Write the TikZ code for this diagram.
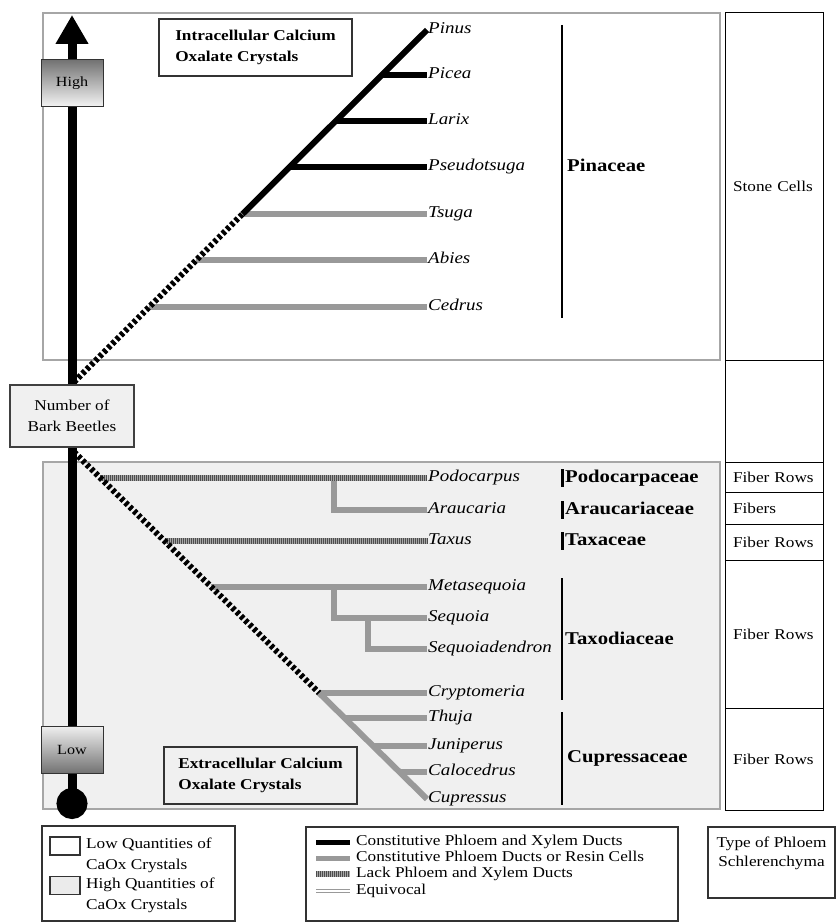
\documentclass[tikz,border=0pt]{standalone}
\usepackage{fontspec}
\setmainfont{Liberation Serif}[FakeStretch=1.15]
\usetikzlibrary{arrows.meta,positioning,calc}

\begin{document}
\begin{tikzpicture}[
    % GLOBAL CFG
    x=1pt, y=-1pt,
    font=\fontsize{15}{21}\selectfont,
    >=LaTeX,
    % Styles
    region/.style={% For the two big crystal areas
        draw=black!35,
        line width=1.5pt,
        },
    tag/.style={% For the boxes with a title
        rectangle,
        draw=black!80,
        line width=1.2pt,
        minimum width=193pt,
        minimum height=57pt,
        align=left,
        font=\fontsize{15}{21}\selectfont\bfseries,
        },
    gauge/.style={% For High and Low
        rectangle,
        draw=black!80,
        line width=1pt,
        minimum width=62pt,
        minimum height=47pt,
        font=\fontsize{14}{16}\selectfont,
        },
    cellbox/.style={% For the phloem column
        rectangle,
        draw,
        line width=1pt,
        minimum width=98pt,
        inner xsep=8pt,
        text width=82pt,
        align=left,
        },
    taxon/.style={% Genus names
        anchor=west,
        inner sep=1pt,
        text height=11pt,
        text depth=4pt,
        font=\fontsize{16.5}{18}\selectfont\itshape,
        },
    family/.style={% Family names
        anchor=west,
        inner sep=1pt,
        text height=12pt,
        text depth=4pt,
        font=\fontsize{18}{20}\selectfont\bfseries,
        },
    keybox/.style={% Legend boxes
        rectangle,
        draw=black!80,
        line width=1.2pt,
        },
    keytext/.style={% Legend entries
        anchor=west,
        inner sep=0pt,
        text height=10pt,
        text depth=3pt,
        },
    swatch/.style={% Little squares of the legend
        rectangle,
        draw=black!80,
        line width=1.5pt,
        minimum width=30pt,
        minimum height=18pt,
        },
    ducts/.style={line width=6pt},
    resin/.style={line width=6pt, draw=black!40},
    noducts/.style={% hatched grey
        line width=6pt, draw=black!35,
        postaction={draw=black!70, line width=6pt, dash pattern=on 1pt off 1pt},
        },
    unsure/.style={line width=6pt, dash pattern=on 3.5pt off 2.5pt},
    equivocal/.style={draw=black!40, line width=1.5pt, double=white, double distance=1.5pt},
    bracket/.style={line width=2pt},
    ]

\useasboundingbox (0,0) rectangle (838,923);

% Draw the two areas
\draw[region, fill=white] (43,13) rectangle (720,360);
\draw[region, fill=black!6] (43,462) rectangle (720,809);

% Draw the phloem column named col#
\node[cellbox, minimum height=347pt] (col1) at (774,186.5) {Stone Cells};
\node[cellbox, minimum height=102pt] (col2) at (774,411) {};
\node[cellbox, minimum height=30pt] (col3) at (774,477) {Fiber Rows};
\node[cellbox, minimum height=32pt] (col4) at (774,508) {Fibers};
\node[cellbox, minimum height=36pt] (col5) at (774,542) {Fiber Rows};
\node[cellbox, minimum height=148pt] (col6) at (774,634) {Fiber Rows};
\node[cellbox, minimum height=102pt] (col7) at (774,759) {Fiber Rows};

% Genus names, upper tree
\node[taxon] (pinus) at (427,30) {Pinus};
\node[taxon] (picea) at (427,75) {Picea};
\node[taxon] (larix) at (427,121) {Larix};
\node[taxon] (pseudotsuga) at (427,167) {Pseudotsuga};
\node[taxon] (tsuga) at (427,214) {Tsuga};
\node[taxon] (abies) at (427,260) {Abies};
\node[taxon] (cedrus) at (427,307) {Cedrus};

% Genus names, lower tree
\node[taxon] (podocarpus) at (427,478) {Podocarpus};
\node[taxon] (araucaria) at (427,510) {Araucaria};
\node[taxon] (taxus) at (427,541) {Taxus};
\node[taxon] (metasequoia) at (427,587) {Metasequoia};
\node[taxon] (sequoia) at (427,618) {Sequoia};
\node[taxon] (sequoiadendron) at (427,649) {Sequoiadendron};
\node[taxon] (cryptomeria) at (427,693) {Cryptomeria};
\node[taxon] (thuja) at (427,718) {Thuja};
\node[taxon] (juniperus) at (427,746) {Juniperus};
\node[taxon] (calocedrus) at (427,772) {Calocedrus};
\node[taxon] (cupressus) at (427,799) {Cupressus};

% Branch points named j#
\coordinate (uroot) at (74,382);
\coordinate (jpicea) at (382,75);
\coordinate (jlarix) at (336,121);
\coordinate (jpseudo) at (290,167);
\coordinate (jtsuga) at (242.5,214);
\coordinate (jabies) at (196,260);
\coordinate (jcedrus) at (149,307);

\coordinate (lroot) at (74,452);
\coordinate (jpodo) at (100.4,478);
\coordinate (jarau) at (334,478);
\coordinate (jtaxus) at (164.5,541);
\coordinate (jmeta) at (211.3,587);
\coordinate (jseq) at (334,587);
\coordinate (jseqd) at (368,618);
\coordinate (jcrypto) at (319.2,693);
\coordinate (jthuja) at (344.6,718);
\coordinate (jjuni) at (373.1,746);
\coordinate (jcalo) at (399.5,772);

% Upper tree
\draw[resin] (jtsuga) -- (tsuga.west);
\draw[resin] (jabies) -- (abies.west);
\draw[resin] (jcedrus) -- (cedrus.west);
\draw[ducts] (jpicea) -- (picea.west);
\draw[ducts] (jlarix) -- (larix.west);
\draw[ducts] (jpseudo) -- (pseudotsuga.west);
\draw[ducts] (jtsuga) -- (pinus.west);
\draw[unsure] (uroot) -- (jtsuga);

% Lower tree
\draw[resin] (jarau) |- (araucaria.west);
\draw[noducts] (jpodo) -- (podocarpus.west);
\draw[noducts] (jtaxus) -- (taxus.west);
\draw[resin] (jseq) |- (sequoia.west);
\draw[resin] (jseqd) |- (sequoiadendron.west);
\draw[resin] (jmeta) -- (metasequoia.west);
\draw[resin] (jcrypto) -- (cryptomeria.west);
\draw[resin] (jthuja) -- (thuja.west);
\draw[resin] (jjuni) -- (juniperus.west);
\draw[resin] (jcalo) -- (calocedrus.west);
\draw[resin] (jcrypto) -- (cupressus.west);
\draw[unsure] (lroot) -- (jcrypto);

% Family names with their bars
\draw[bracket] (562,25) -- (562,318);
\node[family] (pinaceae) at (566,167) {Pinaceae};
\draw[line width=3pt] (562,469) -- (562,487);
\node[family] (podocarpaceae) at (564,478) {Podocarpaceae};
\draw[line width=3pt] (562,501) -- (562,519);
\node[family] (araucariaceae) at (564,510) {Araucariaceae};
\draw[line width=3pt] (562,532) -- (562,550);
\node[family] (taxaceae) at (564,541) {Taxaceae};
\draw[bracket] (562,578) -- (562,700);
\node[family] (taxodiaceae) at (564,640) {Taxodiaceae};
\draw[bracket] (562,712) -- (562,805);
\node[family] (cupressaceae) at (566,758) {Cupressaceae};

% The beetle axis
\coordinate (axistop) at (72,15);
\coordinate (axisbot) at (72,819);
\draw[line width=9pt, {Circle[length=31pt]}-{Triangle[width=31pt,length=29pt]}] (axisbot) -- (axistop);
\node[gauge, top color=black!55, bottom color=black!4] (high) at (72,83.5) {High};
\node[gauge, top color=black!6, bottom color=black!55] (low) at (72,749.5) {Low};
\node[draw=black!75, line width=1.2pt, fill=black!6, minimum width=124pt, minimum height=62pt, align=center] (beetles) at (72,416) {Number of\\Bark Beetles};

% Title boxes
\node[tag, fill=white] (intra) at (255.5,47.5) {Intracellular Calcium\\Oxalate Crystals};
\node[tag, fill=black!6] (extra) at (260.5,775.5) {Extracellular Calcium\\Oxalate Crystals};

% Legend: crystals
\node[keybox, minimum width=193pt, minimum height=95pt] (key1) at (138.5,873.5) {};
\node[swatch, fill=white] (lowsw) at (65,846) {};
\node[swatch, fill=black!8] (highsw) at (65,885.5) {};
\node[anchor=north west, align=left, inner sep=0pt] (lowtxt) at (86,837.5) {Low Quantities of\\CaOx Crystals};
\node[anchor=north west, align=left, inner sep=0pt] (hightxt) at (86,877.5) {High Quantities of\\CaOx Crystals};

% Legend: ducts
\node[keybox, minimum width=372pt, minimum height=94pt] (key2) at (492,874) {};
\node[keytext] (kducts) at (356,842) {Constitutive Phloem and Xylem Ducts};
\node[keytext] (kresin) at (356,858) {Constitutive Phloem Ducts or Resin Cells};
\node[keytext] (knone) at (356,874) {Lack Phloem and Xylem Ducts};
\node[keytext] (kequi) at (356,891) {Equivocal};
\draw[ducts, line width=5pt] ([xshift=-40pt]kducts.west) -- ([xshift=-6pt]kducts.west);
\draw[resin, line width=5pt] ([xshift=-40pt]kresin.west) -- ([xshift=-6pt]kresin.west);
\draw[noducts] ([xshift=-40pt]knone.west) -- ([xshift=-6pt]knone.west);
\draw[equivocal] ([xshift=-40pt]kequi.west) -- ([xshift=-6pt]kequi.west);

% Legend: phloem column
\node[keybox, minimum width=127pt, minimum height=71pt] (key3) at (771.5,862.5) {};
\node[anchor=north, align=center, inner sep=0pt, font=\fontsize{15}{19}\selectfont] (keyphloem) at (771.5,837) {Type of Phloem\\Schlerenchyma};

\end{tikzpicture}
\end{document}
